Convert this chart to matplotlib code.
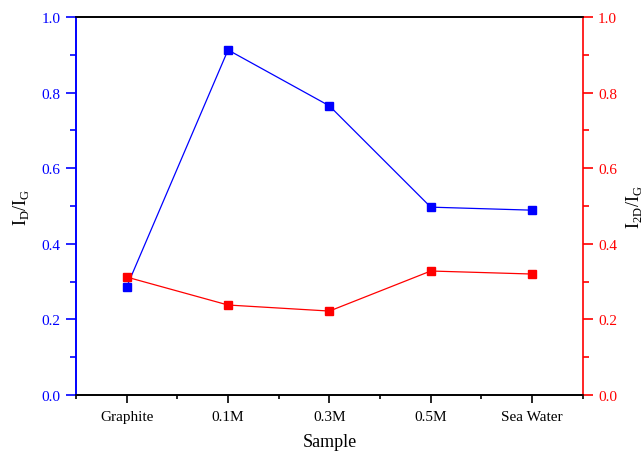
import numpy as np
import matplotlib
matplotlib.use("Agg")
import matplotlib.pyplot as plt
from matplotlib.ticker import MultipleLocator

samples = ["Graphite", "0.1M", "0.3M", "0.5M", "Sea Water"]
id_ig = [0.286, 0.913, 0.765, 0.497, 0.489]
i2d_ig = [0.312, 0.238, 0.222, 0.328, 0.320]

plt.rcParams['font.family'] = ['Liberation Serif', 'DejaVu Serif']
plt.rcParams['mathtext.fontset'] = 'custom'
plt.rcParams['mathtext.rm'] = 'Liberation Serif'

fig = plt.figure(figsize=(6.44, 4.52), dpi=100)
ax = fig.add_axes([0.118, 0.124, 0.787, 0.836])
x = np.arange(len(samples))

ax.plot(x, id_ig, color='#0000ff', lw=0.9, marker='s', ms=6, mec='#0000ff')
ax.set_xlim(-0.5, 4.5)
ax.set_ylim(0, 1.0)
ax.set_xticks(x)
ax.set_xticklabels(samples)
ax.xaxis.set_minor_locator(MultipleLocator(0.5))
ax.yaxis.set_major_locator(MultipleLocator(0.2))
ax.yaxis.set_minor_locator(MultipleLocator(0.1))
ax.set_xlabel("Sample", fontsize=13, labelpad=7)
ax.set_ylabel(r"I$_\mathrm{D}$/I$_\mathrm{G}$", fontsize=13, labelpad=8)

ax2 = ax.twinx()
ax2.plot(x, i2d_ig, color='#ff0000', lw=0.9, marker='s', ms=6, mec='#ff0000')
ax2.set_ylim(0, 1.0)
ax2.yaxis.set_major_locator(MultipleLocator(0.2))
ax2.yaxis.set_minor_locator(MultipleLocator(0.1))
ax2.set_ylabel(r"I$_\mathrm{2D}$/I$_\mathrm{G}$", fontsize=13, labelpad=5)

ax.spines['left'].set_color('#0000ff')
ax2.spines['left'].set_color('#0000ff')
ax2.spines['right'].set_color('#ff0000')
ax.spines['right'].set_visible(False)
for a in (ax, ax2):
    for s in a.spines.values():
        s.set_linewidth(1.2)

ax.tick_params(axis='y', which='both', colors='#0000ff', labelsize=11, direction='out')
ax.tick_params(axis='y', which='major', length=7, width=1.2, pad=4)
ax.tick_params(axis='y', which='minor', length=4, width=1.2)
ax.tick_params(axis='x', which='both', colors='black', labelsize=11, direction='out')
ax.tick_params(axis='x', which='major', length=6, width=1.2, pad=5)
ax.tick_params(axis='x', which='minor', length=3, width=1.2)
ax2.tick_params(axis='y', which='both', colors='#ff0000', labelsize=11, direction='out')
ax2.tick_params(axis='y', which='major', length=7, width=1.2, pad=4)
ax2.tick_params(axis='y', which='minor', length=4, width=1.2)

fig.savefig("out.png", dpi=100)
